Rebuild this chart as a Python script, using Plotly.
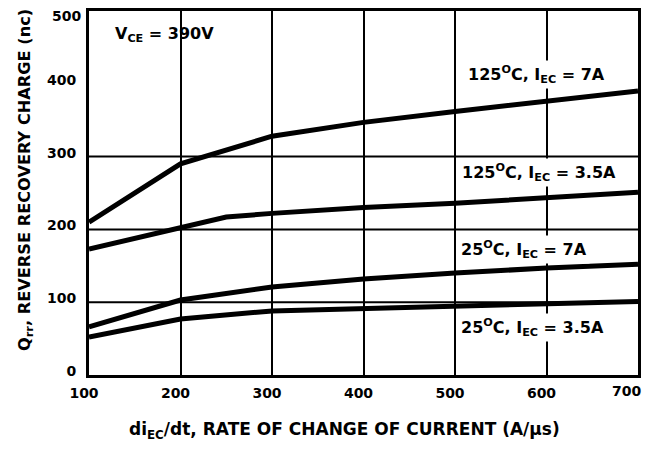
import plotly.graph_objects as go

x_vals = [100, 200, 300, 400, 500, 600, 700]
x_vals_b = [100, 200, 250, 300, 400, 500, 600, 700]

q_125_7 = [210, 290, 328, 347, 362, 376, 390]
q_125_35 = [173, 202, 217, 222, 230, 236, 243, 251]
q_25_7 = [66, 103, 121, 132, 140, 147, 152]
q_25_35 = [52, 77, 88, 91, 94, 98, 101]

x_ticks = [100, 200, 300, 400, 500, 600, 700]
x_tick_text = ["100", "200", "300", "400", "500", "600", "700"]
y_ticks = [0, 100, 200, 300, 400, 500]
y_tick_text = ["0", "100", "200", "300", "400", "500"]
y_grid = [100, 200, 300]

FONT = "DejaVu Sans"
OFF = 8  # default page margin around the plot div
W, H = 653 - 2 * OFF, 449 - 2 * OFF
# plot area in window pixels: x 89..638, y 11..375
L, T = 89 - OFF, 11 - OFF
R = W - (638 - OFF)
B = H - (375 - OFF)
PW, PH = W - L - R, H - T - B


def px_x(p):
    return (p - OFF - L) / PW


def px_y(p):
    return (H - B - (p - OFF)) / PH


TICKFONT = dict(family=FONT, size=14, color="black", weight="bold")

fig = go.Figure()
for xs, ys, name in [
    (x_vals, q_125_7, "125C 7A"),
    (x_vals_b, q_125_35, "125C 3.5A"),
    (x_vals, q_25_7, "25C 7A"),
    (x_vals, q_25_35, "25C 3.5A"),
]:
    fig.add_trace(go.Scatter(x=xs, y=ys, mode="lines", name=name,
                             line=dict(color="black", width=5), showlegend=False))

# horizontal grid lines only at 100, 200, 300 (as in the reference)
for gy in y_grid:
    fig.add_shape(type="line", xref="paper", yref="y", x0=0, x1=1, y0=gy, y1=gy,
                  line=dict(color="black", width=2), layer="below")

labels = [
    (465, 74, "125<sup>O</sup>C, I<sub>EC</sub> = 7A"),
    (459, 172, "125<sup>O</sup>C, I<sub>EC</sub> = 3.5A"),
    (458, 249, "25<sup>O</sup>C, I<sub>EC</sub> = 7A"),
    (458, 327, "25<sup>O</sup>C, I<sub>EC</sub> = 3.5A"),
]
for lx, ly, txt in labels:
    fig.add_annotation(x=px_x(lx), y=px_y(ly), xref="paper", yref="paper", text=txt,
                       showarrow=False, xanchor="left", yanchor="middle",
                       bgcolor="white", borderpad=2,
                       font=dict(family=FONT, size=16, color="black", weight="bold"))

fig.add_annotation(x=px_x(113), y=px_y(34), xref="paper", yref="paper",
                   text="V<sub>CE</sub> = 390V", showarrow=False,
                   xanchor="left", yanchor="middle",
                   font=dict(family=FONT, size=16, color="black", weight="bold"))

fig.add_annotation(x=px_x(344), y=px_y(431), xref="paper", yref="paper",
                   text="di<sub>EC</sub>/dt, RATE OF CHANGE OF CURRENT (A/µs)",
                   showarrow=False, xanchor="center", yanchor="middle",
                   font=dict(family=FONT, size=17, color="black", weight="bold"))

fig.add_annotation(x=px_x(25), y=px_y(180), xref="paper", yref="paper",
                   text="Q<sub>rr</sub>, REVERSE RECOVERY CHARGE (nc)", textangle=-90,
                   showarrow=False, xanchor="center", yanchor="middle",
                   font=dict(family=FONT, size=16.2, color="black", weight="bold"))

# end tick labels are pulled inside the figure edge, as in the reference
fig.add_annotation(x=0, y=px_y(16), xref="paper", yref="paper", text=y_tick_text[-1],
                   showarrow=False, xanchor="right", yanchor="middle", xshift=-6,
                   font=TICKFONT)
fig.add_annotation(x=x_ticks[-1], y=px_y(391), xref="x", yref="paper", text=x_tick_text[-1],
                   showarrow=False, xanchor="right", yanchor="middle", xshift=5,
                   font=TICKFONT)

fig.update_layout(
    width=W, height=H,
    margin=dict(l=L, r=R, t=T, b=B, autoexpand=False),
    paper_bgcolor="white", plot_bgcolor="white",
    xaxis=dict(range=[100, 700], tickvals=x_ticks, ticktext=x_tick_text[:-1] + [""],
               showgrid=True, gridcolor="black", gridwidth=2,
               showline=True, linecolor="black", linewidth=3, mirror=True, zeroline=False,
               ticks="", automargin=False, ticklabelstandoff=3, ticklabelshift=-5,
               tickfont=TICKFONT),
    yaxis=dict(range=[0, 500], tickvals=y_ticks, ticktext=y_tick_text[:-1] + [""],
               showgrid=False,
               showline=True, linecolor="black", linewidth=3, mirror=True, zeroline=False,
               ticks="", automargin=False, ticklabelstandoff=7, ticklabelshift=-4,
               tickfont=TICKFONT),
)

fig.write_html("out.html")
